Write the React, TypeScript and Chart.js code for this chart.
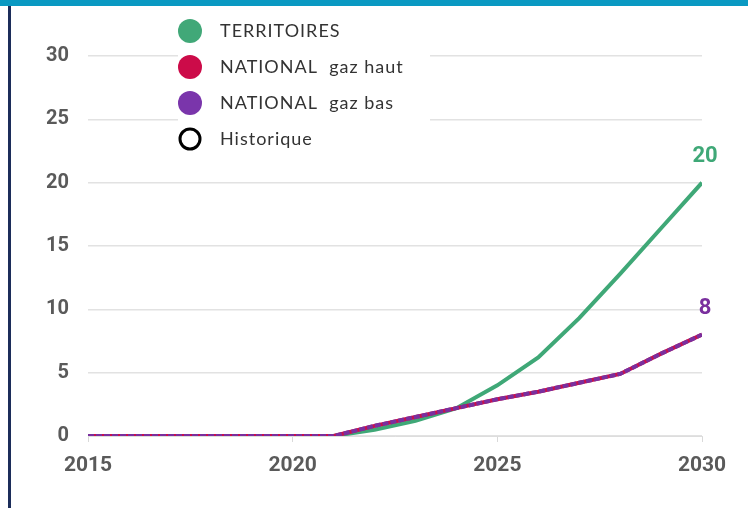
import React, { useEffect, useRef } from "react";
import { Chart, registerables } from "chart.js";

Chart.register(...registerables);

const years = [2015, 2016, 2017, 2018, 2019, 2020, 2021, 2022, 2023, 2024, 2025, 2026, 2027, 2028, 2029, 2030];
const territoires = [0, 0, 0, 0, 0, 0, 0, 0.5, 1.2, 2.2, 4.0, 6.2, 9.3, 12.8, 16.4, 20];
const gazHaut = [0, 0, 0, 0, 0, 0, 0, 0.8, 1.5, 2.2, 2.9, 3.5, 4.2, 4.9, 6.5, 8];
const gazBas = [0, 0, 0, 0, 0, 0, 0, 0.8, 1.5, 2.2, 2.9, 3.5, 4.2, 4.9, 6.5, 8];
const historique: number[] = [];
const seriesLabels = ["TERRITOIRES", "NATIONAL  gaz haut", "NATIONAL  gaz bas", "Historique"];
const yTicks = [0, 5, 10, 15, 20, 25, 30];
const xTicks = [2015, 2020, 2025, 2030];

const GREEN = "#3fa877";
const RED = "#c9104b";
const PURPLE = "#7a2f9e";
const LEGEND_COLORS = ["#41a878", "#cc0b49", "#7a35ab", "#000000"];

const toPoints = (vals: number[]) => vals.map((v, i) => ({ x: years[i], y: v }));

export default function App() {
  const ref = useRef<HTMLCanvasElement | null>(null);

  useEffect(() => {
    document.body.style.margin = "0";
    const canvas = ref.current;
    if (!canvas) return;

    const legendPlugin = {
      id: "customLegend",
      afterDatasetsDraw(chart: any) {
        const ctx = chart.ctx;
        ctx.save();
        ctx.fillStyle = "#ffffff";
        ctx.fillRect(178, 12, 252, 143);
        const rows = [31, 67, 103, 139];
        seriesLabels.forEach((label, i) => {
          const cy = rows[i];
          ctx.beginPath();
          if (i === 3) {
            ctx.arc(190, cy, 10, 0, Math.PI * 2);
            ctx.lineWidth = 3;
            ctx.strokeStyle = LEGEND_COLORS[i];
            ctx.stroke();
          } else {
            ctx.arc(190, cy, 12, 0, Math.PI * 2);
            ctx.fillStyle = LEGEND_COLORS[i];
            ctx.fill();
          }
          ctx.fillStyle = "#333333";
          ctx.font = "18px Lato";
          (ctx as any).letterSpacing = "1px";
          ctx.textAlign = "left";
          ctx.textBaseline = "middle";
          ctx.fillText(label, 220, cy);
        });
        ctx.restore();
      },
    };

    const endLabelPlugin = {
      id: "endLabels",
      afterDatasetsDraw(chart: any) {
        const ctx = chart.ctx;
        ctx.save();
        ctx.font = "bold 22px Roboto";
        ctx.textAlign = "center";
        ctx.textBaseline = "middle";
        [0, 2].forEach((di) => {
          const meta = chart.getDatasetMeta(di);
          const ds = chart.data.datasets[di];
          const last = meta.data[meta.data.length - 1];
          const raw = ds.data[ds.data.length - 1];
          ctx.fillStyle = di === 0 ? GREEN : PURPLE;
          ctx.fillText(String(raw.y), last.x + 3, last.y - 26);
        });
        ctx.restore();
      },
    };

    const chart = new Chart(canvas, {
      type: "line",
      data: {
        datasets: [
          {
            label: seriesLabels[0],
            data: toPoints(territoires),
            borderColor: GREEN,
            borderWidth: 4,
            pointRadius: 0,
            tension: 0,
            order: 3,
          },
          {
            label: seriesLabels[1],
            data: toPoints(gazHaut),
            borderColor: RED,
            borderWidth: 4,
            pointRadius: 0,
            tension: 0,
            order: 2,
          },
          {
            label: seriesLabels[2],
            data: toPoints(gazBas),
            borderColor: PURPLE,
            borderWidth: 4,
            borderDash: [6, 2],
            pointRadius: 0,
            tension: 0,
            order: 1,
          },
          {
            label: seriesLabels[3],
            data: historique,
            borderColor: "#000000",
            borderWidth: 3,
            pointRadius: 0,
            order: 4,
          },
        ],
      },
      options: {
        animation: false,
        responsive: false,
        maintainAspectRatio: false,
        layout: { padding: { top: 56, right: 46, left: 0, bottom: 0 } },
        plugins: {
          legend: { display: false },
          tooltip: { enabled: false },
        },
        scales: {
          x: {
            type: "linear",
            min: xTicks[0],
            max: xTicks[xTicks.length - 1],
            afterBuildTicks: (scale: any) => {
              scale.ticks = xTicks.map((v) => ({ value: v }));
            },
            afterFit: (scale: any) => {
              scale.height = 72;
            },
            grid: {
              display: true,
              drawOnChartArea: false,
              drawTicks: true,
              tickLength: 6,
              color: "#d9d9d9",
            },
            border: { display: true, color: "#dddddd" },
            ticks: {
              padding: 11,
              maxRotation: 0,
              color: "#5a5a5a",
              font: { family: "Roboto", size: 21, weight: "bold" },
              callback: (v: any) => String(v),
            },
          },
          y: {
            min: 0,
            max: 30,
            afterBuildTicks: (scale: any) => {
              scale.ticks = yTicks.map((v) => ({ value: v }));
            },
            afterFit: (scale: any) => {
              scale.width = 88;
            },
            grid: { color: "#e2e2e2", drawTicks: false, lineWidth: 1.5 },
            border: { display: false },
            ticks: {
              padding: 19,
              color: "#5a5a5a",
              font: { family: "Roboto", size: 20, weight: "bold" },
              callback: (v: any) => String(v),
            },
          },
        },
      },
      plugins: [legendPlugin, endLabelPlugin],
    } as any);

    return () => chart.destroy();
  }, []);

  return (
    <div style={{ position: "relative", width: 748, height: 508, background: "#ffffff", overflow: "hidden" }}>
      <div style={{ position: "absolute", left: 0, top: 0, width: 748, height: 6, background: "#0a99c2" }} />
      <div style={{ position: "absolute", left: 8, top: 6, width: 3, height: 502, background: "#1c2d5a" }} />
      <canvas ref={ref} width={748} height={508} style={{ position: "absolute", left: 0, top: 0 }} />
    </div>
  );
}
